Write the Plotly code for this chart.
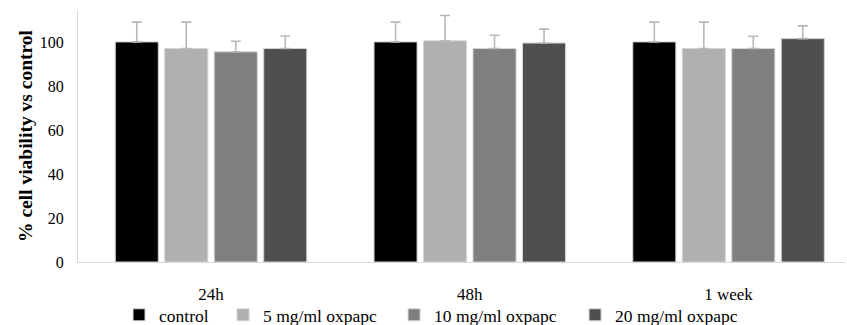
import plotly.graph_objects as go

categories = ["24h", "48h", "1 week"]
series_names = ["control", "5 mg/ml oxpapc", "10 mg/ml oxpapc", "20 mg/ml oxpapc"]
control = [100, 100, 100]
ox5 = [97, 100.5, 97]
ox10 = [95.5, 97, 97]
ox20 = [97, 99.5, 101.5]
err_control = [9, 9, 9]
err_ox5 = [12, 11.5, 12]
err_ox10 = [4.8, 6, 5.6]
err_ox20 = [5.7, 6.3, 5.8]
y_ticks = [0, 20, 40, 60, 80, 100]

colors = ["#000000", "#b0b0b0", "#7f7f7f", "#4f4f4f"]
legend_widths = [59, 126, 136, 130]
values = [control, ox5, ox10, ox20]
errors = [err_control, err_ox5, err_ox10, err_ox20]

FONT = "Liberation Serif"

fig = go.Figure()
for name, vals, errs, col, lw in zip(series_names, values, errors, colors, legend_widths):
    fig.add_trace(go.Bar(
        x=categories, y=vals, name=name, legendwidth=lw,
        marker=dict(color=col, line=dict(color="#d4d4d4", width=1)),
        error_y=dict(type="data", array=errs, arrayminus=[0] * len(errs),
                     symmetric=False, color="#b8b8b8", thickness=1.6, width=5),
    ))

fig.update_layout(
    width=847, height=325,
    margin=dict(l=78, r=2, t=10, b=63, autoexpand=False),
    paper_bgcolor="white", plot_bgcolor="white",
    barmode="group", bargap=0.235, bargroupgap=0.13,
    font=dict(family=FONT, size=16, color="#000000"),
    showlegend=True,
    legend=dict(orientation="h", x=0.0535, xanchor="left", y=-0.21, yanchor="middle",
                font=dict(family=FONT, size=17.5, color="#000000"),
                bgcolor="rgba(0,0,0,0)", itemclick=False, traceorder="normal"),
)
fig.update_xaxes(
    range=[-0.514, 2.45], showline=True, linecolor="#d9d9d9", linewidth=1,
    showgrid=False, zeroline=False, ticks="", ticklabelstandoff=17, automargin=False,
    tickfont=dict(family=FONT, size=17, color="#000000"),
)
fig.update_yaxes(
    range=[0, 114.5], tickvals=y_ticks, showline=True, linecolor="#d9d9d9", linewidth=1,
    showgrid=False, zeroline=False, ticks="", ticklabelstandoff=10, automargin=False,
    tickfont=dict(family=FONT, size=16, color="#000000"),
    title=dict(text="<b>% cell viability vs control</b>", standoff=1,
               font=dict(family=FONT, size=19.5, color="#000000")),
)

fig.write_html("out.html")
